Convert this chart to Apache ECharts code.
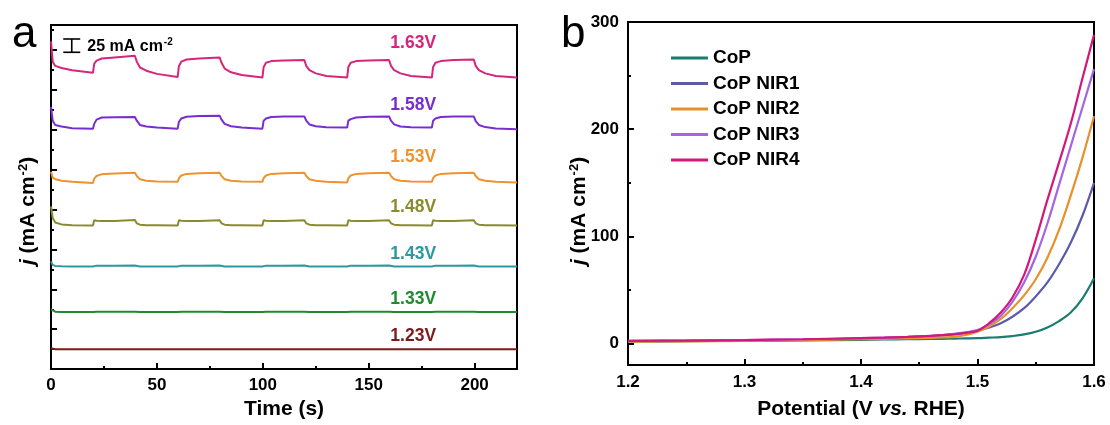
<!DOCTYPE html>
<html>
<head>
<meta charset="utf-8">
<script src="https://cdn.jsdelivr.net/npm/echarts@6/dist/echarts.min.js"></script>
<style>
  html, body { margin: 0; padding: 0; background: #fff; }
  #chart { width: 1110px; height: 425px; }
</style>
</head>
<body>
<div id="chart"></div>
<script>
// ---------- Panel a: chopped-light chronoamperometry (offset traces) ----------
const timeS = [0, 0.8, 2, 5, 10, 19.8,
  20.4, 21.5, 24, 30, 39.6,   40.5, 42, 45, 50, 59.8,
  60.4, 61.5, 64, 70, 79.6,   80.5, 82, 85, 90, 99.8,
  100.4, 101.5, 104, 110, 119.6,   120.5, 122, 125, 130, 139.8,
  140.4, 141.5, 144, 150, 159.6,   160.5, 162, 165, 170, 179.8,
  180.4, 181.5, 184, 190, 199.6,   200.5, 202, 205, 210, 220];

const j163 = [616, 578, 570, 566, 562, 557,
  574, 580, 584, 586, 589,   578, 567, 561, 555, 549,
  570, 578, 582, 584, 586,   576, 565, 558, 553, 548,
  568, 576, 579, 580, 581,   570, 562, 556, 551, 548,
  568, 576, 579, 580, 581,   570, 562, 556, 551, 548,
  568, 576, 579, 581, 582,   570, 562, 556, 551, 548];
const j158 = [493, 467, 459, 456, 453, 452,
  461, 469, 473, 473.5, 474,   467, 459, 456, 454, 452,
  465, 471, 474.5, 476, 476.5,   469, 461, 456.5, 454, 452,
  467, 471, 474, 475, 475,   467, 460, 456.5, 454.7, 454,
  467, 470, 473, 474.5, 475,   467, 460, 456, 454.5, 454,
  467, 471, 474, 475, 475,   466, 459, 455, 452.5, 451];
const j153 = [371, 360, 357, 354, 352, 350,
  358, 363, 366.5, 367.5, 369,   363, 357, 354, 352.5, 352,
  359, 364, 367, 368, 369,   363, 357, 354, 352.5, 352,
  359, 364, 367, 368, 369,   363, 357, 354, 352, 351,
  359, 364, 367, 368, 369,   363, 357, 354, 352.5, 352,
  359, 364, 367, 368, 369,   363, 357, 354, 352, 351];
const j148 = [306, 284, 275.6, 272, 270.5, 270,
  280, 279, 278.5, 278.5, 280.5,   274, 271.5, 270.5, 270.5, 270,
  280, 279, 278.5, 278.5, 280,   274, 271.5, 270.5, 270.5, 270,
  280, 279, 278.5, 278.5, 280,   274, 271.5, 270.5, 270.5, 270,
  280, 279, 278.5, 278.5, 280,   274, 271.5, 270.5, 270.5, 270,
  280, 279, 278.5, 278.5, 280,   274, 271.5, 270.5, 270.5, 270];
const j143 = [202.5, 196, 194, 193.5, 193, 193,
  195, 194.5, 194.5, 194.5, 194.7,   193.5, 193, 193, 193, 193,
  195, 194.5, 194.5, 194.5, 194.7,   193.5, 193, 193, 193, 193,
  195, 194.5, 194.5, 194.5, 194.7,   193.5, 193, 193, 193, 193,
  195, 194.5, 194.5, 194.5, 194.7,   193.5, 193, 193, 193, 193,
  195, 194.5, 194.5, 194.5, 194.7,   193.5, 193, 193, 193, 193];
const j133 = [112.5, 109, 108, 107.5, 107.5, 107.5,
  108, 108, 108, 108, 108,   107.5, 107.5, 107.5, 107.5, 107.5,
  108, 108, 108, 108, 108,   107.5, 107.5, 107.5, 107.5, 107.5,
  108, 108, 108, 108, 108,   107.5, 107.5, 107.5, 107.5, 107.5,
  108, 108, 108, 108, 108,   107.5, 107.5, 107.5, 107.5, 107.5,
  108, 108, 108, 108, 108,   107.5, 107.5, 107.5, 107.5, 107.5];
const j123 = [39, 37.8, 37.5, 37.5, 37.5, 37.5,
  37.5, 37.5, 37.5, 37.5, 37.5,   37.5, 37.5, 37.5, 37.5, 37.5,
  37.5, 37.5, 37.5, 37.5, 37.5,   37.5, 37.5, 37.5, 37.5, 37.5,
  37.5, 37.5, 37.5, 37.5, 37.5,   37.5, 37.5, 37.5, 37.5, 37.5,
  37.5, 37.5, 37.5, 37.5, 37.5,   37.5, 37.5, 37.5, 37.5, 37.5,
  37.5, 37.5, 37.5, 37.5, 37.5,   37.5, 37.5, 37.5, 37.5, 37.5];

const voltageLabels = ['1.63V', '1.58V', '1.53V', '1.48V', '1.43V', '1.33V', '1.23V'];
const voltageTraces = [j163, j158, j153, j148, j143, j133, j123];
const voltageColors = ['#d6257b', '#7a2dcf', '#ef9330', '#8b8b2e', '#2a99a0', '#1f8a2e', '#7d1a1a'];
const labelTime = 171;
const labelLevel = [613, 497, 397.5, 304, 216, 131, 62];

// scale bar: 25 mA cm-2 drawn at t = 9.8 s
const scaleBar = [[9.8, 595.6, 620.6]];

const timeTicksMajor = [0, 50, 100, 150, 200];
const timeTicksMinor = [25, 75, 125, 175];
const aTicksMajor = [75, 150, 225, 300, 375, 450, 525, 600];
const aTicksMinor = [37.5, 112.5, 187.5, 262.5, 337.5, 412.5, 487.5, 562.5, 637.5];

// ---------- Panel b: LSV curves ----------
const potential = [1.20, 1.25, 1.30, 1.35, 1.40, 1.42, 1.44, 1.46, 1.47, 1.48, 1.49,
  1.50, 1.51, 1.52, 1.53, 1.54, 1.55, 1.56, 1.57, 1.58, 1.59, 1.60];
const jCoP  = [2.0, 2.2, 2.6, 3.0, 3.5, 3.8, 4.1, 4.3, 4.4, 4.6, 4.8,
  5.0, 5.5, 6.0, 7.0, 8.5, 11, 15, 21, 29, 42, 61];
const jNIR1 = [2.2, 2.5, 3.0, 3.6, 4.5, 5.2, 6.0, 7.0, 7.8, 8.8, 10,
  12, 15, 19, 25, 33, 44, 57, 74, 94, 119, 150];
const jNIR2 = [1.8, 2.1, 2.6, 3.2, 4.0, 4.4, 4.8, 5.3, 5.7, 6.3, 8,
  11, 16, 23, 33, 45, 60, 80, 106, 138, 173, 212];
const jNIR3 = [2.5, 2.8, 3.3, 4.0, 5.0, 5.6, 6.3, 7.3, 8.0, 9.0, 10.5,
  12.5, 18, 26, 39, 57, 81, 112, 148, 184, 220, 256];
const jNIR4 = [2.5, 2.8, 3.3, 4.0, 5.0, 5.5, 6.2, 7.2, 7.8, 8.6, 10,
  12, 19, 29, 43, 64, 97, 134, 169, 205, 247, 288];

const lsvNames = ['CoP', 'CoP NIR1', 'CoP NIR2', 'CoP NIR3', 'CoP NIR4'];
const lsvData = [jCoP, jNIR1, jNIR2, jNIR3, jNIR4];
const lsvColors = ['#1b7c70', '#5b5ba8', '#e8902c', '#a466e0', '#d2187a'];

const bTicksMajor = [0, 100, 200, 300];
const bTicksMinor = [50, 150, 250];

// ---------- chart ----------
const FONT = "'Liberation Sans', Arial, sans-serif";
const chart = echarts.init(document.getElementById('chart'), null, { renderer: 'canvas' });

const zip = (xs, ys) => xs.map((x, i) => [x, ys[i]]);

const axisLineStyle = { show: true, onZero: false, lineStyle: { color: '#000', width: 2 } };
const tickLabel = { color: '#000', fontFamily: FONT, fontWeight: 'bold', fontSize: 17 };

const series = [];

voltageTraces.forEach((trace, i) => {
  series.push({
    type: 'line', name: voltageLabels[i], xAxisIndex: 0, yAxisIndex: 0,
    data: zip(timeS, trace), showSymbol: false, symbol: 'none',
    lineStyle: { color: voltageColors[i], width: 2 }, silent: true
  });
});

// voltage tags placed above each trace
series.push({
  type: 'scatter', xAxisIndex: 0, yAxisIndex: 0, silent: true,
  symbolSize: 1, itemStyle: { color: 'rgba(0,0,0,0)', opacity: 1 },
  data: voltageLabels.map((v, i) => ({
    name: v, value: [labelTime, labelLevel[i]],
    label: { color: voltageColors[i] }
  })),
  label: {
    show: true, position: 'inside', formatter: '{b}', opacity: 1,
    fontFamily: FONT, fontWeight: 'bold', fontSize: 17.5
  }
});

series.push({
  type: 'custom', xAxisIndex: 0, yAxisIndex: 0, silent: true, clip: false,
  data: scaleBar,
  renderItem: (params, api) => {
    const p0 = api.coord([api.value(0), api.value(1)]);
    const p1 = api.coord([api.value(0), api.value(2)]);
    const cap = 8.5;
    const st = { stroke: '#000', lineWidth: 1.6 };
    return {
      type: 'group',
      children: [
        { type: 'line', shape: { x1: p0[0], y1: p0[1], x2: p1[0], y2: p1[1] }, style: st },
        { type: 'line', shape: { x1: p0[0] - cap, y1: p0[1], x2: p0[0] + cap, y2: p0[1] }, style: st },
        { type: 'line', shape: { x1: p1[0] - cap, y1: p1[1], x2: p1[0] + cap, y2: p1[1] }, style: st },
        {
          type: 'text', x: p0[0] + 15.5, y: (p0[1] + p1[1]) / 2 + 1,
          style: {
            text: '25 mA cm{s|-2}', fill: '#000', font: 'bold 16px ' + FONT,
            verticalAlign: 'middle',
            rich: { s: { fontSize: 10, fontWeight: 'bold', fontFamily: FONT, verticalAlign: 'top', padding: [0, 0, 9, 1] } }
          }
        }
      ]
    };
  }
});

lsvData.forEach((ys, i) => {
  series.push({
    type: 'line', name: lsvNames[i], xAxisIndex: 2, yAxisIndex: 2,
    data: zip(potential, ys), smooth: 0.35, showSymbol: false, symbol: 'none',
    lineStyle: { color: lsvColors[i], width: 2.2 }, itemStyle: { color: lsvColors[i] }, silent: true
  });
});

const option = {
  animation: false,
  backgroundColor: '#fff',
  grid: [
    { left: 51, top: 25, width: 466, height: 345, show: true, borderColor: '#000', borderWidth: 2, containLabel: false },
    { left: 628, top: 22, width: 466, height: 344, show: true, borderColor: '#000', borderWidth: 2, containLabel: false }
  ],
  legend: {
    data: lsvNames.map(n => ({ name: n, icon: 'rect' })),
    orient: 'vertical', left: 671, top: 48.5, padding: 0,
    itemWidth: 37, itemHeight: 3, itemGap: 6.5,
    textStyle: { color: '#000', fontFamily: FONT, fontWeight: 'bold', fontSize: 19 },
    selectedMode: false
  },
  xAxis: [
    {
      gridIndex: 0, type: 'value', min: 0, max: 220,
      axisLine: axisLineStyle,
      axisTick: { show: true, inside: true, length: 6, customValues: timeTicksMajor, lineStyle: { color: '#000', width: 2 } },
      axisLabel: Object.assign({ margin: 8, customValues: timeTicksMajor }, tickLabel),
      splitLine: { show: false },
      name: 'Time (s)', nameLocation: 'middle', nameGap: 27,
      nameTextStyle: { color: '#000', fontFamily: FONT, fontWeight: 'bold', fontSize: 21 }
    },
    {
      gridIndex: 0, type: 'value', min: 0, max: 220, position: 'bottom',
      axisLine: { show: false, onZero: false },
      axisTick: { show: true, inside: true, length: 3, customValues: timeTicksMinor, lineStyle: { color: '#000', width: 2 } },
      axisLabel: { show: false }, splitLine: { show: false }
    },
    {
      gridIndex: 1, type: 'value', min: 1.2, max: 1.6, interval: 0.1,
      axisLine: axisLineStyle,
      axisTick: { show: true, inside: true, length: 6, lineStyle: { color: '#000', width: 2 } },
      minorTick: { show: true, splitNumber: 2, length: 3, lineStyle: { color: '#000', width: 2 } },
      axisLabel: Object.assign({ margin: 9, formatter: v => v.toFixed(1) }, tickLabel),
      splitLine: { show: false },
      name: 'Potential (V {i|vs.} RHE)', nameLocation: 'middle', nameGap: 34,
      nameTextStyle: {
        color: '#000', fontFamily: FONT, fontWeight: 'bold', fontSize: 21,
        rich: { i: { fontStyle: 'italic', fontFamily: FONT, fontWeight: 'bold', fontSize: 21, color: '#000' } }
      }
    }
  ],
  yAxis: [
    {
      gridIndex: 0, type: 'value', min: 0, max: 646.9,
      axisLine: axisLineStyle,
      axisTick: { show: true, inside: true, length: 6, customValues: aTicksMajor, lineStyle: { color: '#000', width: 2 } },
      axisLabel: { show: false }, splitLine: { show: false }
    },
    {
      gridIndex: 0, type: 'value', min: 0, max: 646.9, position: 'left',
      axisLine: { show: false, onZero: false },
      axisTick: { show: true, inside: true, length: 3, customValues: aTicksMinor, lineStyle: { color: '#000', width: 2 } },
      axisLabel: { show: false }, splitLine: { show: false }
    },
    {
      gridIndex: 1, type: 'value', min: -20, max: 300,
      axisLine: axisLineStyle,
      axisTick: { show: true, inside: true, length: 6, customValues: bTicksMajor, lineStyle: { color: '#000', width: 2 } },
      axisLabel: Object.assign({ margin: 9, customValues: bTicksMajor }, tickLabel),
      splitLine: { show: false }
    },
    {
      gridIndex: 1, type: 'value', min: -20, max: 300, position: 'left',
      axisLine: { show: false, onZero: false },
      axisTick: { show: true, inside: true, length: 3, customValues: bTicksMinor, lineStyle: { color: '#000', width: 2 } },
      axisLabel: { show: false }, splitLine: { show: false }
    }
  ],
  graphic: [
    { type: 'text', x: 12, y: 35, silent: true,
      style: { text: 'a', font: '44px ' + FONT, fill: '#000', verticalAlign: 'middle' } },
    { type: 'text', x: 561, y: 35, silent: true,
      style: { text: 'b', font: '44px ' + FONT, fill: '#000', verticalAlign: 'middle' } },
    { type: 'text', x: 28, y: 211, rotation: Math.PI / 2, silent: true,
      style: {
        text: '{i|j} (mA cm{s|-2})', font: 'bold 21px ' + FONT, fill: '#000',
        align: 'center', verticalAlign: 'middle',
        rich: {
          i: { fontStyle: 'italic', fontWeight: 'bold', fontSize: 21, fontFamily: FONT },
          s: { fontWeight: 'bold', fontSize: 13, fontFamily: FONT, verticalAlign: 'top', padding: [0, 0, 10, 1] }
        }
      } },
    { type: 'text', x: 579, y: 211, rotation: Math.PI / 2, silent: true,
      style: {
        text: '{i|j} (mA cm{s|-2})', font: 'bold 21px ' + FONT, fill: '#000',
        align: 'center', verticalAlign: 'middle',
        rich: {
          i: { fontStyle: 'italic', fontWeight: 'bold', fontSize: 21, fontFamily: FONT },
          s: { fontWeight: 'bold', fontSize: 13, fontFamily: FONT, verticalAlign: 'top', padding: [0, 0, 10, 1] }
        }
      } }
  ],
  series: series
};

chart.setOption(option);
</script>
</body>
</html>
